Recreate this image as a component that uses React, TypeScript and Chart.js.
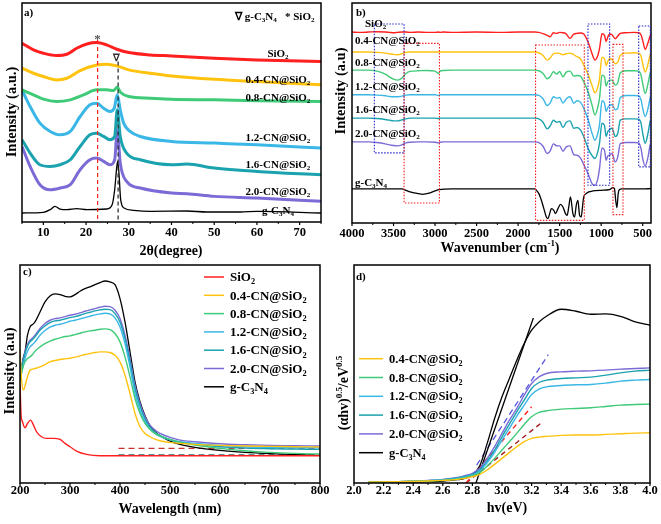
import React, { useEffect, useRef } from 'react';
import { Chart, registerables } from 'chart.js';
Chart.register(...registerables);

const FONT = "'Liberation Serif', 'Times New Roman', serif";

const RED = '#ff1f1f';
const YEL = '#ffc20e';
const GRN = '#3fca78';
const LBL = '#3ab7e6';
const TEAL = '#1aa2ae';
const PUR = '#7b6bd6';
const BLK = '#000000';

const SERIES_NAMES = ['SiO_2', '0.4-CN@SiO_2', '0.8-CN@SiO_2', '1.2-CN@SiO_2', '1.6-CN@SiO_2', '2.0-CN@SiO_2', 'g-C_3N_4'];
const SERIES_COLORS = [RED, YEL, GRN, LBL, TEAL, PUR, BLK];

// ---------------- Panel a: XRD ----------------
const xrdTicks = [10, 20, 30, 40, 50, 60, 70];
const xrdMinor = [5, 15, 25, 35, 45, 55, 65, 75];
const xrdSiO2X = [5, 7.7, 10, 13.1, 15.5, 17.8, 20.2, 22.5, 24.8, 27.2, 30, 35, 40, 50, 60, 75];
const xrdSiO2Y = [537, 517, 507, 500, 504, 522, 535, 539, 532, 519, 509, 502, 499, 492, 487, 482];
const xrd04X = [5, 7.7, 10, 13.1, 15.5, 18.6, 22.5, 24.8, 27.2, 30, 35, 40, 50, 60, 75];
const xrd04Y = [462, 447, 437, 427, 432, 455, 472, 474, 469, 457, 447, 439, 429, 422, 412];
const xrd08X = [5, 7.7, 10, 13.1, 16.3, 19.4, 22.5, 24.8, 26.4, 27.3, 28.1, 30, 35, 40, 50, 60, 75];
const xrd08Y = [397, 382, 369, 362, 367, 382, 397, 397, 395, 405, 389, 377, 372, 369, 367, 364, 362];
const xrd12X = [5, 6.9, 9.2, 11.6, 13.9, 16.3, 18.6, 20.9, 22.5, 24.1, 25.6, 26.6, 27.3, 28, 28.8, 30.3, 32.7, 40, 50, 60, 75];
const xrd12Y = [397, 347, 297, 272, 262, 272, 317, 352, 357, 342, 332, 342, 382, 337, 297, 272, 257, 242, 237, 232, 222];
const xrd16X = [5, 6.9, 9.2, 11.6, 13.9, 16.3, 18.6, 20.9, 22.5, 24.1, 25.6, 26.7, 27.3, 28, 29.5, 32.7, 40, 43.6, 50, 60, 75];
const xrd16Y = [247, 207, 172, 167, 172, 187, 227, 262, 267, 257, 247, 257, 337, 257, 207, 187, 172, 174, 162, 152, 142];
const xrd20X = [5, 6.9, 9.2, 11.6, 13.9, 16.3, 18.6, 20.9, 22.5, 24.1, 25.6, 26.7, 27.3, 28, 29.5, 32.7, 40, 43.6, 50, 60, 75];
const xrd20Y = [227, 167, 112, 97, 102, 112, 157, 187, 192, 182, 172, 187, 277, 177, 122, 102, 87, 85, 77, 72, 62];
const xrdCNX = [5, 10, 11.6, 12.7, 13.9, 15.5, 17.8, 20.2, 24.8, 26.1, 26.7, 27.2, 27.4, 27.7, 28.1, 28.9, 31.1, 35, 43.6, 48.3, 56.1, 60, 75];
const xrdCNY = [27, 29, 37, 47, 39, 37, 40, 37, 39, 52, 97, 167, 182, 147, 67, 42, 35, 32, 33, 30, 30, 32, 27];
const xrdSiO2Peak = 22.7;
const xrdCNPeak = 27.5;

// ---------------- Panel b: FTIR ----------------
const ftirTicks = [4000, 3500, 3000, 2500, 2000, 1500, 1000, 500];
const ftirMinor = [3750, 3250, 2750, 2250, 1750, 1250, 750];
const ftirX = [4000, 3900, 3800, 3700, 3600, 3550, 3500, 3450, 3400, 3350, 3300, 3200, 3100, 3000, 2960, 2940, 2900, 2800, 2500, 2200, 2000, 1800, 1750, 1700, 1650, 1615, 1575, 1535, 1500, 1460, 1420, 1375, 1330, 1290, 1250, 1210, 1150, 1110, 1075, 1040, 1020, 990, 960, 940, 920, 900, 870, 830, 800, 770, 700, 600, 550, 520, 500, 470, 440, 410, 400];
const ftirSiO2 = [572, 571, 572, 573, 572, 571, 570, 571, 572, 572, 571, 572, 571, 571, 572, 571, 572, 571, 572, 571, 572, 572, 571, 567, 562, 558, 570, 568, 571, 570, 566, 553, 566, 568, 569, 566, 537, 507, 488, 502, 522, 567, 562, 544, 557, 566, 564, 552, 560, 568, 570, 571, 570, 564, 547, 520, 537, 560, 564];
const ftir04 = [512, 512, 512, 511, 509, 507, 505, 504, 507, 511, 512, 512, 512, 512, 512, 512, 512, 512, 512, 512, 512, 512, 510, 502, 488, 494, 507, 509, 508, 504, 507, 509, 504, 498, 492, 474, 440, 412, 390, 407, 432, 497, 492, 472, 484, 492, 490, 477, 482, 502, 509, 510, 509, 500, 477, 452, 472, 504, 507];
const ftir08 = [458, 458, 458, 455, 446, 438, 431, 428, 434, 448, 454, 456, 457, 455, 448, 455, 457, 458, 458, 458, 458, 458, 456, 448, 432, 438, 453, 446, 454, 438, 452, 455, 440, 442, 440, 423, 388, 353, 323, 348, 373, 443, 438, 410, 423, 428, 428, 413, 420, 450, 456, 456, 455, 443, 418, 388, 413, 448, 452];
const ftir12 = [384, 384, 384, 383, 381, 379, 378, 378, 380, 383, 384, 384, 384, 384, 382, 384, 384, 384, 384, 384, 384, 384, 382, 372, 352, 359, 378, 374, 376, 359, 372, 378, 359, 366, 362, 344, 304, 269, 248, 269, 294, 366, 359, 334, 346, 352, 354, 339, 344, 376, 382, 382, 381, 369, 344, 319, 339, 374, 378];
const ftir16 = [314, 314, 314, 313, 310, 308, 306, 306, 309, 312, 314, 314, 314, 314, 313, 314, 314, 314, 314, 314, 314, 314, 312, 302, 282, 290, 308, 302, 304, 286, 302, 306, 284, 286, 279, 259, 219, 202, 193, 214, 239, 299, 292, 259, 274, 279, 284, 259, 269, 308, 312, 312, 311, 299, 269, 239, 264, 304, 308];
const ftir20 = [243, 243, 243, 241, 237, 234, 232, 231, 234, 240, 242, 243, 243, 242, 240, 242, 243, 243, 243, 243, 243, 243, 241, 230, 208, 215, 237, 231, 231, 215, 228, 231, 205, 203, 195, 175, 143, 118, 113, 133, 163, 225, 218, 188, 201, 203, 208, 183, 198, 238, 241, 241, 240, 223, 193, 171, 193, 233, 237];
const ftirCNX = [4000, 3800, 3600, 3450, 3400, 3350, 3300, 3250, 3200, 3150, 3100, 3050, 3000, 2950, 2800, 2500, 2000, 1800, 1780, 1750, 1720, 1690, 1660, 1640, 1620, 1600, 1570, 1550, 1520, 1490, 1460, 1430, 1410, 1390, 1370, 1340, 1320, 1300, 1280, 1260, 1240, 1225, 1210, 1180, 1150, 1100, 1000, 900, 860, 840, 825, 810, 795, 780, 750, 700, 600, 500, 400];
const ftirCNY = [102, 102, 102, 102, 102, 98, 93, 90, 88, 86, 88, 91, 96, 100, 102, 102, 102, 102, 98, 88, 68, 43, 18, 13, 28, 43, 38, 28, 43, 56, 48, 28, 23, 48, 78, 28, 18, 53, 68, 23, 18, 48, 78, 88, 93, 96, 98, 100, 106, 103, 68, 46, 88, 100, 102, 102, 102, 102, 103];
// dotted boxes: [wn from, wn to, top, bottom]
const ftirBlueBoxes = [[3731, 3373, 596, 210], [1159, 898, 596, 113], [548, 408, 590, 168]];
const ftirRedBoxes = [[3373, 2947, 538, 60], [1790, 1203, 533, 8], [858, 737, 535, 25]];

// ---------------- Panel c: UV-vis ----------------
const uvTicks = [200, 300, 400, 500, 600, 700, 800];
const uvMinor = [250, 350, 450, 550, 650, 750];
const uvX = [200, 203, 207, 210, 215, 220, 225, 230, 240, 250, 260, 270, 280, 290, 300, 310, 320, 330, 340, 350, 360, 370, 380, 390, 400, 410, 420, 430, 440, 450, 460, 470, 480, 500, 520, 550, 600, 650, 700, 750, 800];
const uvCN = [319, 344, 379, 394, 444, 469, 476, 484, 514, 544, 562, 568, 566, 561, 559, 566, 576, 584, 589, 596, 602, 607, 604, 596, 554, 484, 394, 304, 244, 202, 172, 154, 142, 126, 116, 107, 98, 92, 88, 85, 83];
const uv20 = [334, 354, 374, 394, 416, 429, 436, 444, 464, 479, 489, 494, 496, 500, 504, 507, 511, 516, 520, 524, 528, 531, 530, 519, 494, 444, 374, 294, 239, 199, 174, 159, 149, 137, 129, 124, 118, 115, 113, 112, 111];
const uv16 = [329, 349, 369, 389, 411, 424, 431, 439, 459, 472, 482, 487, 489, 493, 497, 500, 504, 509, 513, 517, 520, 522, 521, 509, 484, 434, 364, 284, 231, 192, 167, 152, 142, 130, 122, 116, 109, 105, 103, 102, 101];
const uv12 = [314, 334, 354, 374, 396, 409, 416, 424, 444, 458, 468, 474, 477, 481, 486, 489, 493, 497, 501, 505, 508, 510, 508, 496, 469, 419, 349, 269, 219, 184, 162, 149, 140, 130, 124, 119, 113, 109, 107, 106, 106];
const uv08 = [304, 329, 354, 364, 374, 379, 386, 396, 409, 419, 426, 432, 436, 440, 442, 446, 450, 454, 457, 459, 462, 463, 461, 449, 424, 379, 319, 254, 209, 179, 161, 149, 141, 131, 123, 114, 104, 97, 92, 89, 87];
const uv04 = [402, 314, 279, 292, 319, 339, 342, 344, 349, 356, 364, 368, 371, 373, 375, 378, 382, 386, 389, 392, 394, 394, 392, 384, 364, 324, 269, 209, 169, 149, 139, 132, 127, 122, 119, 116, 113, 111, 110, 109, 108];
const uvSiO2X = [200, 202, 205, 210, 215, 221, 227, 233, 243, 253, 267, 280, 290, 300, 313, 333, 360, 500, 650, 800];
const uvSiO2 = [300, 209, 184, 166, 179, 189, 174, 154, 139, 134, 134, 131, 119, 109, 96, 86, 82, 82, 82, 82];
const uvGuideX = [397, 800];
const uvGuideHigh = [104, 104];
const uvGuideLow = [84, 84];

// ---------------- Panel d: Tauc ----------------
const taucTicks = [2.0, 2.2, 2.4, 2.6, 2.8, 3.0, 3.2, 3.4, 3.6, 3.8, 4.0];
const taucMinor = [2.1, 2.3, 2.5, 2.7, 2.9, 3.1, 3.3, 3.5, 3.7, 3.9];
const taucX = [2.1, 2.3, 2.5, 2.6, 2.7, 2.75, 2.8, 2.85, 2.9, 2.95, 3.0, 3.05, 3.1, 3.15, 3.2, 3.25, 3.3, 3.4, 3.5, 3.6, 3.7, 3.8, 3.9, 4.0];
const taucCN = [2, 3, 4, 6, 10, 14, 24, 52, 119, 194, 259, 314, 369, 419, 459, 484, 501, 522, 516, 507, 508, 501, 484, 474];
const tauc20 = [3, 4, 8, 11, 17, 22, 29, 44, 74, 109, 149, 189, 224, 264, 299, 319, 329, 334, 336, 337, 339, 342, 344, 346];
const tauc16 = [3, 4, 7, 10, 15, 20, 26, 39, 66, 99, 139, 177, 214, 249, 284, 302, 309, 314, 316, 318, 324, 331, 336, 339];
const tauc12 = [3, 4, 7, 9, 14, 18, 24, 36, 61, 92, 129, 164, 201, 234, 266, 282, 289, 293, 295, 296, 300, 306, 309, 311];
const tauc08 = [3, 4, 6, 8, 12, 16, 22, 31, 51, 74, 99, 124, 149, 176, 199, 212, 217, 222, 224, 226, 230, 234, 236, 237];
const tauc04 = [3, 4, 6, 8, 11, 14, 19, 26, 39, 56, 74, 92, 109, 124, 134, 138, 140, 143, 144, 144, 146, 148, 150, 151];
const tangCNX = [2.824, 3.212];
const tangCNY = [0, 496];
const tang20X = [2.829, 3.313];
const tang20Y = [54, 386];
const tangRedX = [2.757, 3.2];
const tangRedY = [0, 229];
const tangMarX = [2.757, 3.261];
const tangMarY = [0, 179];

// ---------------- helpers ----------------
type Seg = { t: string; k: number };
function parseRich(s: string): Seg[] {
  const out: Seg[] = [];
  let buf = '';
  for (let i = 0; i < s.length; i++) {
    const ch = s[i];
    if ((ch === '_' || ch === '^') && i + 1 < s.length) {
      if (buf) { out.push({ t: buf, k: 0 }); buf = ''; }
      let t = '';
      if (s[i + 1] === '{') { const j = s.indexOf('}', i + 2); t = s.slice(i + 2, j); i = j; }
      else { t = s[i + 1]; i++; }
      out.push({ t, k: ch === '_' ? 1 : 2 });
    } else buf += ch;
  }
  if (buf) out.push({ t: buf, k: 0 });
  return out;
}

function drawRich(ctx: CanvasRenderingContext2D, s: string, x: number, y: number, size: number, align = 'left', color = '#000', rotate = false) {
  const segs = parseRich(s);
  const small = size * 0.64;
  ctx.save();
  if (rotate) { ctx.translate(x, y); ctx.rotate(-Math.PI / 2); x = 0; y = 0; }
  ctx.fillStyle = color;
  ctx.textBaseline = 'alphabetic';
  ctx.textAlign = 'left';
  const widths = segs.map((sg) => { ctx.font = `bold ${sg.k ? small : size}px ${FONT}`; return ctx.measureText(sg.t).width; });
  const w = widths.reduce((a, b) => a + b, 0);
  let cx = align === 'left' ? x : align === 'center' ? x - w / 2 : x - w;
  const base = y + size * 0.33;
  segs.forEach((sg, i) => {
    ctx.font = `bold ${sg.k ? small : size}px ${FONT}`;
    const dy = sg.k === 1 ? size * 0.24 : sg.k === 2 ? -size * 0.42 : 0;
    ctx.fillText(sg.t, cx, base + dy);
    cx += widths[i];
  });
  ctx.restore();
}

function seg(ctx: CanvasRenderingContext2D, x1: number, y1: number, x2: number, y2: number, color: string, width: number, dash: number[] = []) {
  ctx.save();
  ctx.strokeStyle = color;
  ctx.lineWidth = width;
  ctx.setLineDash(dash);
  ctx.beginPath();
  ctx.moveTo(x1, y1);
  ctx.lineTo(x2, y2);
  ctx.stroke();
  ctx.restore();
}

function pts(xs: number[], ys: number[]) {
  return xs.map((x, i) => ({ x, y: ys[i] }));
}

function ds(xs: number[], ys: number[], color: string, width = 1.5, dash: number[] = [], smooth = true) {
  return {
    data: pts(xs, ys),
    borderColor: color,
    borderWidth: width,
    borderDash: dash,
    pointRadius: 0,
    fill: false,
    cubicInterpolationMode: smooth ? 'monotone' : 'default',
    tension: 0,
  };
}

type PanelOpts = {
  datasets: any[];
  xMin: number; xMax: number; reverse?: boolean;
  ticks: number[]; minor: number[]; fmt: (v: number) => string;
  padL: number; padR: number; padT: number; axisH: number; tickPad: number;
  yMax: number;
  draw: (chart: any, ctx: CanvasRenderingContext2D) => void;
};

function makeConfig(o: PanelOpts): any {
  return {
    type: 'line',
    data: { datasets: o.datasets },
    options: {
      responsive: false,
      animation: false,
      devicePixelRatio: 1,
      events: [],
      layout: { padding: { left: o.padL, right: o.padR, top: o.padT, bottom: 0 } },
      plugins: { legend: { display: false }, tooltip: { enabled: false }, title: { display: false } },
      scales: {
        x: {
          type: 'linear', min: o.xMin, max: o.xMax, reverse: !!o.reverse,
          grid: { display: false, drawTicks: false },
          border: { display: false },
          afterBuildTicks: (s: any) => { s.ticks = o.ticks.map((v) => ({ value: v })); },
          afterFit: (s: any) => { s.height = o.axisH; },
          ticks: {
            color: '#000', padding: o.tickPad, maxRotation: 0, minRotation: 0, autoSkip: false,
            font: { family: FONT, size: 12.5, weight: 'bold' },
            callback: (v: any) => o.fmt(Number(v)),
          },
        },
        y: { type: 'linear', display: false, min: 0, max: o.yMax },
      },
    },
    plugins: [{
      id: 'decor',
      afterDatasetsDraw(chart: any) {
        const ctx = chart.ctx as CanvasRenderingContext2D;
        const { left, right, top, bottom } = chart.chartArea;
        const xs = chart.scales.x;
        ctx.save();
        ctx.strokeStyle = '#000';
        ctx.lineWidth = 1.5;
        ctx.strokeRect(left, top, right - left, bottom - top);
        o.ticks.forEach((v) => { const p = xs.getPixelForValue(v); seg(ctx, p, bottom, p, bottom + 3, '#000', 1.2); });
        o.minor.forEach((v) => { const p = xs.getPixelForValue(v); seg(ctx, p, bottom, p, bottom + 2, '#000', 1); });
        ctx.restore();
        o.draw(chart, ctx);
      },
    }],
  };
}

function Panel({ left, top, width, height, config }: { left: number; top: number; width: number; height: number; config: () => any }) {
  const ref = useRef<HTMLCanvasElement>(null);
  useEffect(() => {
    const chart = new Chart(ref.current as HTMLCanvasElement, config());
    return () => chart.destroy();
  }, []);
  return (
    <div style={{ position: 'absolute', left, top, width, height }}>
      <canvas ref={ref} width={width} height={height} style={{ width, height, display: 'block' }} />
    </div>
  );
}

// ---------------- panel configs ----------------
const configA = () => makeConfig({
  datasets: [
    ds(xrdSiO2X, xrdSiO2Y, RED, 3),
    ds(xrd04X, xrd04Y, YEL, 3),
    ds(xrd08X, xrd08Y, GRN, 3),
    ds(xrd12X, xrd12Y, LBL, 3),
    ds(xrd16X, xrd16Y, TEAL, 3),
    ds(xrd20X, xrd20Y, PUR, 3),
    ds(xrdCNX, xrdCNY, BLK, 1.3),
  ],
  xMin: 5, xMax: 75, ticks: xrdTicks, minor: xrdMinor, fmt: (v) => String(v),
  padL: 22, padR: 9, padT: 3, axisH: 40, tickPad: 3, yMax: 658,
  draw: (chart, ctx) => {
    const xs = chart.scales.x, ys = chart.scales.y;
    const bottom = chart.chartArea.bottom;
    const rx = xs.getPixelForValue(xrdSiO2Peak);
    const bx = xs.getPixelForValue(xrdCNPeak);
    seg(ctx, rx, ys.getPixelForValue(547), rx, bottom, '#ff2020', 1.2, [4, 3]);
    seg(ctx, bx, ys.getPixelForValue(482), bx, bottom, '#222', 1.2, [4, 3]);
    drawRich(ctx, '*', rx, ys.getPixelForValue(551), 13, 'center', '#555');
    drawRich(ctx, '∇', bx - 2, ys.getPixelForValue(495), 10, 'center', '#333');
    drawRich(ctx, '∇ g-C_3N_4', 235, 16, 11, 'left');
    drawRich(ctx, '* SiO_2', 285, 16, 11, 'left');
    const labY = [53, 79, 97, 137, 164, 191, 210];
    SERIES_NAMES.forEach((n, i) => drawRich(ctx, n, 278, labY[i], 11, 'center'));
    drawRich(ctx, 'a)', 24, 12, 11, 'left');
    drawRich(ctx, 'Intensity (a.u.)', 11, 112, 14.5, 'center', '#000', true);
    drawRich(ctx, '2θ(degree)', 171, 250, 14, 'center');
  },
});

const configB = () => makeConfig({
  datasets: [
    ds(ftirX, ftirSiO2, RED, 1.4),
    ds(ftirX, ftir04, YEL, 1.4),
    ds(ftirX, ftir08, GRN, 1.4),
    ds(ftirX, ftir12, LBL, 1.4),
    ds(ftirX, ftir16, TEAL, 1.4),
    ds(ftirX, ftir20, PUR, 1.4),
    ds(ftirCNX, ftirCNY, BLK, 1.3),
  ],
  xMin: 400, xMax: 4000, reverse: true, ticks: ftirTicks, minor: ftirMinor, fmt: (v) => String(v),
  padL: 22, padR: 10, padT: 3, axisH: 39, tickPad: 3.5, yMax: 659,
  draw: (chart, ctx) => {
    const xs = chart.scales.x, ys = chart.scales.y;
    const box = (b: number[], color: string) => {
      const x1 = xs.getPixelForValue(b[0]), x2 = xs.getPixelForValue(b[1]);
      const y1 = ys.getPixelForValue(b[2]), y2 = ys.getPixelForValue(b[3]);
      ctx.save();
      ctx.strokeStyle = color; ctx.lineWidth = 1.1; ctx.setLineDash([1.5, 1.5]);
      ctx.strokeRect(x1, y1, x2 - x1, y2 - y1);
      ctx.restore();
    };
    ftirBlueBoxes.forEach((b) => box(b, '#2828c8'));
    ftirRedBoxes.forEach((b) => box(b, '#f02020'));
    const labX = [35, 25, 25, 25, 25, 25, 25];
    const labY = [23, 40, 62, 86, 109, 133, 182];
    SERIES_NAMES.forEach((n, i) => drawRich(ctx, n, labX[i], labY[i], 11, 'left'));
    drawRich(ctx, 'b)', 26, 12, 11, 'left');
    drawRich(ctx, 'Intensity (a.u)', 10, 91, 14.5, 'center', '#000', true);
    drawRich(ctx, 'Wavenumber (cm^{-1})', 170, 247, 14, 'center');
  },
});

const configC = () => makeConfig({
  datasets: [
    ds(uvSiO2X, uvSiO2, RED, 1.4),
    ds(uvX, uv04, YEL, 1.4),
    ds(uvX, uv08, GRN, 1.4),
    ds(uvX, uv12, LBL, 1.4),
    ds(uvX, uv16, TEAL, 1.4),
    ds(uvX, uv20, PUR, 1.4),
    ds(uvX, uvCN, BLK, 1.3),
    ds(uvGuideX, uvGuideHigh, '#c83030', 1.4, [6, 4], false),
    ds(uvGuideX, uvGuideLow, '#2f6a6a', 1.4, [6, 4], false),
  ],
  xMin: 200, xMax: 800, ticks: uvTicks, minor: uvMinor, fmt: (v) => String(v),
  padL: 20, padR: 10, padT: 3, axisH: 41, tickPad: 0, yMax: 655,
  draw: (chart, ctx) => {
    SERIES_NAMES.forEach((n, i) => {
      const y = 15 + i * 18.3;
      seg(ctx, 204, y, 224, y, SERIES_COLORS[i], 1.5);
      drawRich(ctx, n, 230, y, 13, 'left');
    });
    drawRich(ctx, 'c)', 23, 9, 11, 'left');
    drawRich(ctx, 'Intensity (a.u)', 9, 109, 14.5, 'center', '#000', true);
    drawRich(ctx, 'Wavelength (nm)', 170, 246, 14, 'center');
  },
});

const configD = () => makeConfig({
  datasets: [
    ds(taucX, tauc04, YEL, 1.4),
    ds(taucX, tauc08, GRN, 1.4),
    ds(taucX, tauc12, LBL, 1.4),
    ds(taucX, tauc16, TEAL, 1.4),
    ds(taucX, tauc20, PUR, 1.4),
    ds(taucX, taucCN, BLK, 1.3),
    ds(tangCNX, tangCNY, BLK, 1.3, [], false),
    ds(tang20X, tang20Y, '#5555dd', 1.3, [6, 4], false),
    ds(tangRedX, tangRedY, '#ff2020', 1.4, [5, 4], false),
    ds(tangMarX, tangMarY, '#a01818', 1.4, [5, 4], false),
  ],
  xMin: 2.0, xMax: 4.0, ticks: taucTicks, minor: taucMinor, fmt: (v) => v.toFixed(1),
  padL: 24, padR: 11, padT: 3, axisH: 41, tickPad: 0, yMax: 655,
  draw: (chart, ctx) => {
    SERIES_NAMES.slice(1).forEach((n, i) => {
      const y = 96.7 + i * 18.8;
      seg(ctx, 29, y, 53, y, SERIES_COLORS[i + 1], 1.5);
      drawRich(ctx, n, 59, y, 12.5, 'left');
    });
    drawRich(ctx, 'd)', 26, 14, 11, 'left');
    drawRich(ctx, '(αhv)^{0.5}/eV^{0.5}', 13, 131, 14, 'center', '#000', true);
    drawRich(ctx, 'hv(eV)', 177, 245, 14, 'center');
  },
});

export default function App() {
  return (
    <div style={{ position: 'fixed', left: 0, top: 0, width: 661, height: 524, background: '#fff', overflow: 'hidden' }}>
      <Panel left={0} top={0} width={330} height={262} config={configA} />
      <Panel left={330} top={0} width={331} height={262} config={configB} />
      <Panel left={0} top={262} width={330} height={262} config={configC} />
      <Panel left={330} top={262} width={331} height={262} config={configD} />
    </div>
  );
}
